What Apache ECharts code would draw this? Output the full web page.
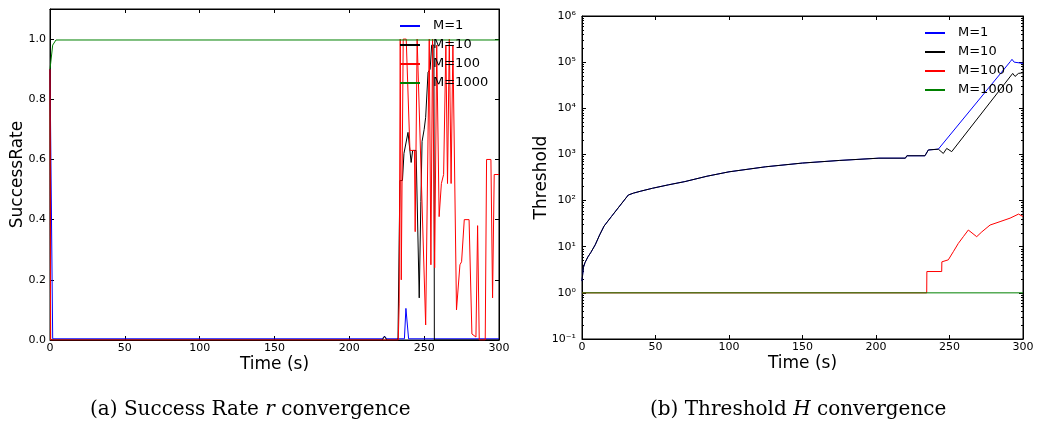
<!DOCTYPE html>
<html>
<head>
<meta charset="utf-8">
<script src="https://cdn.jsdelivr.net/npm/echarts@6/dist/echarts.min.js"></script>
<style>
html,body{margin:0;padding:0;background:#fff;}
#chart{width:1038px;height:432px;}
</style>
</head>
<body>
<div id="chart"></div>
<script>
// ---------- data ----------
const seriesNames = ['M=1', 'M=10', 'M=100', 'M=1000'];
const seriesColors = ['#0000ff', '#000000', '#ff0000', '#008000'];

// (a) success rate r vs time (s): [time, rate]
const rateM1 = [[0,0.9],[1.8,0.004],[222,0.004],[223.5,0.013],[225,0.004],[236.8,0.004],[237.8,0.105],[238.6,0.105],[239.6,0.004],[300,0.004]];
const rateM10 = [[0,0.9],[0.4,0],[222,0],[223.5,0.012],[225,0],[232.5,0],[233.8,0.53],[235.5,0.53],[236.5,0.62],[237.8,0.62],[239.2,0.69],[240.5,0.69],[241.3,0.59],[242.3,0.63],[244.6,0.63],[246.7,0.14],[247.8,0.46],[248.6,0.66],[250,0.7],[251,0.74],[252.6,0.89],[254,0.9],[255,0.98],[256.5,0.98],[256.8,0],[300,0]];
const rateM100 = [[0,0.9],[0.4,0],[232.7,0],[233.3,0.12],[234,1.0],[234.7,0.2],[236,1.0],[238,1.0],[240.5,0.63],[243.5,0.63],[244,0.36],[245.3,1.0],[246.5,1.0],[251,0.05],[253.4,1.0],[254.5,0.25],[255.6,1.0],[257,0.24],[258.4,0.98],[260,0.41],[261.5,0.52],[263,0.55],[264.5,0.98],[265.6,0.52],[266.8,1.0],[268,0.52],[269.2,0.98],[271.6,0.1],[273.9,0.25],[275,0.26],[276.8,0.4],[280,0.4],[281.9,0.02],[284.6,0.01],[285.7,0.38],[286.8,0],[290.8,0],[291.7,0.6],[294.6,0.6],[295.7,0.14],[296.8,0.55],[300,0.55]];
const rateM1000 = [[0,0.9],[1.8,0.98],[4,0.997],[300,0.997]];

// (b) threshold H vs time (s): [time, H]
const thrM1 = [[0,1.8],[0.5,2.6],[1,3.6],[2,4.5],[4,6],[6,7.5],[9,11],[12,18],[15,28],[20,45],[25,72],[31.5,132],[35,145],[40,160],[48,185],[59,220],[70,258],[85,337],[100,420],[125,540],[150,650],[175,740],[202,830],[220,830],[221,935],[233.3,935],[235.6,1250],[242.4,1300],[291.4,103000],[292.5,115000],[294,100000],[300,94000]];
const thrM10 = [[0,1.8],[0.5,2.6],[1,3.6],[2,4.5],[4,6],[6,7.5],[9,11],[12,18],[15,28],[20,45],[25,72],[31.5,132],[35,145],[40,160],[48,185],[59,220],[70,258],[85,337],[100,420],[125,540],[150,650],[175,740],[202,830],[220,830],[221,935],[233.3,935],[235.6,1250],[242.4,1300],[245.8,1050],[248.1,1350],[251.5,1150],[293,57000],[294.6,49000],[296.9,57000],[300,59000]];
const thrM100 = [[0,1],[234.5,1],[234.6,2.9],[244.7,2.9],[244.8,4.7],[249.2,5.2],[252.6,7.8],[256,11.8],[259.4,16.5],[262.8,23],[268.5,16.5],[272,21],[277.6,29.5],[284.4,35],[291.2,41.6],[297,51],[300,45]];
const thrM1000 = [[0,1],[300,1]];

// tick labels
const rateTickDigits = 1;
const thresholdTickLabels = ['10\u207B\u00B9','10\u2070','10\u00B9','10\u00B2','10\u00B3','10\u2074','10\u2075','10\u2076'];
const thresholdMinExp = -1;
const thresholdMaxExp = 6;

// ---------- chart ----------
// minor tick positions of the log axis (2..9 per decade), expressed as exponents
const minorLogTicks = [];
for (let e = thresholdMinExp; e < thresholdMaxExp; e++) for (let m = 2; m <= 9; m++) minorLogTicks.push(e + Math.log10(m));

const black = '#000';
const font = 'DejaVu Sans';
function xAx(grid, top, named) {
  return {
    gridIndex: grid, type: 'value', min: 0, max: 300, interval: 50,
    position: top ? 'top' : 'bottom',
    axisLine: {show: true, onZero: false, lineStyle: {color: black, width: 1}},
    axisTick: {show: true, inside: true, length: 4, lineStyle: {color: black}},
    axisLabel: {show: !top, color: black, fontSize: 11, margin: 3, fontFamily: font},
    splitLine: {show: false},
    name: named ? 'Time (s)' : '', nameLocation: 'middle', nameGap: 16, nameMoveOverlap: false,
    nameTextStyle: {fontSize: 17, color: black, fontFamily: font}
  };
}
function rateY(right) {
  return {
    gridIndex: 0, type: 'value', min: 0, max: 1.1, interval: 0.2,
    position: right ? 'right' : 'left',
    axisLine: {show: true, onZero: false, lineStyle: {color: black}},
    axisTick: {show: true, inside: true, length: 4, lineStyle: {color: black}},
    axisLabel: {show: !right, color: black, fontSize: 11, margin: 4, fontFamily: font, showMaxLabel: false,
      formatter: v => v.toFixed(rateTickDigits)},
    splitLine: {show: false},
    name: right ? '' : 'SuccessRate', nameLocation: 'middle', nameGap: 24, nameMoveOverlap: false,
    nameTextStyle: {fontSize: 17, color: black, fontFamily: font}
  };
}
function thrY(right) {
  return {
    gridIndex: 1, type: 'log', logBase: 10, min: 0.1, max: 1e6, interval: 1, splitNumber: 7,
    position: right ? 'right' : 'left',
    axisLine: {show: true, onZero: false, lineStyle: {color: black}},
    axisTick: {show: true, inside: true, length: 4, lineStyle: {color: black}},
    axisLabel: {show: !right, color: black, fontSize: 11, margin: 6, fontFamily: font,
      formatter: v => thresholdTickLabels[Math.round(Math.log10(v)) - thresholdMinExp]},
    splitLine: {show: false},
    name: right ? '' : 'Threshold', nameLocation: 'middle', nameGap: 32, nameMoveOverlap: false,
    nameTextStyle: {fontSize: 17, color: black, fontFamily: font}
  };
}
function minorY(right) {
  return {
    gridIndex: 1, type: 'value', min: thresholdMinExp, max: thresholdMaxExp, interval: 1,
    position: right ? 'right' : 'left',
    axisLine: {show: false, onZero: false},
    axisTick: {show: true, inside: true, length: 2, customValues: minorLogTicks, lineStyle: {color: black}},
    axisLabel: {show: false},
    splitLine: {show: false}
  };
}
function line(name, data, xi, yi, color) {
  return {name, type: 'line', data, xAxisIndex: xi, yAxisIndex: yi, showSymbol: false, symbol: 'none',
    color, lineStyle: {color, width: 1}, itemStyle: {color}, animation: false, silent: true};
}
function legend(left, top) {
  return {data: seriesNames, orient: 'vertical', left, top, itemWidth: 20, itemHeight: 2, icon: 'rect',
    itemGap: 5, selectedMode: false, padding: 0,
    textStyle: {fontSize: 13, lineHeight: 14, color: black, fontFamily: font, padding: [0, 0, 0, 8]}};
}

const chart = echarts.init(document.getElementById('chart'), null, {renderer: 'canvas'});
chart.setOption({
  animation: false,
  backgroundColor: '#fff',
  textStyle: {fontFamily: font},
  title: [
    {text: '(a) Success Rate {i|r} convergence', left: 90, top: 400, padding: 0,
      textStyle: {fontFamily: 'DejaVu Serif', fontSize: 20, fontWeight: 'normal', color: black,
        rich: {i: {fontFamily: 'DejaVu Serif', fontStyle: 'italic', fontSize: 20, color: black}}}},
    {text: '(b) Threshold {i|H} convergence', left: 650, top: 400, padding: 0,
      textStyle: {fontFamily: 'DejaVu Serif', fontSize: 20, fontWeight: 'normal', color: black,
        rich: {i: {fontFamily: 'DejaVu Serif', fontStyle: 'italic', fontSize: 20, color: black}}}}
  ],
  legend: [legend(400, 19), legend(925, 26)],
  grid: [
    {left: 50, top: 9, width: 449, height: 331, show: true, borderColor: black, borderWidth: 1, backgroundColor: 'transparent'},
    {left: 582, top: 16, width: 441, height: 323, show: true, borderColor: black, borderWidth: 1, backgroundColor: 'transparent'}
  ],
  xAxis: [xAx(0, false, true), xAx(0, true, false), xAx(1, false, true), xAx(1, true, false)],
  yAxis: [rateY(false), rateY(true), thrY(false), thrY(true), minorY(false), minorY(true)],
  series: [
    line(seriesNames[0], rateM1, 0, 0, seriesColors[0]),
    line(seriesNames[1], rateM10, 0, 0, seriesColors[1]),
    line(seriesNames[2], rateM100, 0, 0, seriesColors[2]),
    line(seriesNames[3], rateM1000, 0, 0, seriesColors[3]),
    line(seriesNames[0], thrM1, 2, 2, seriesColors[0]),
    line(seriesNames[1], thrM10, 2, 2, seriesColors[1]),
    line(seriesNames[2], thrM100, 2, 2, seriesColors[2]),
    line(seriesNames[3], thrM1000, 2, 2, seriesColors[3])
  ]
});
</script>
</body>
</html>
